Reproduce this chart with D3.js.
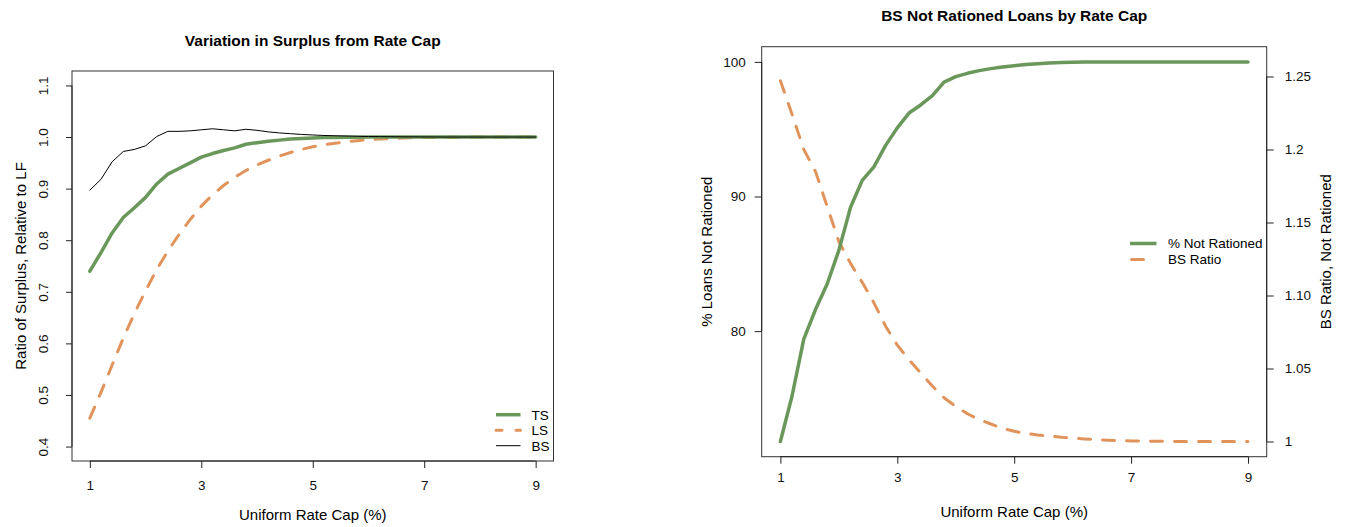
<!DOCTYPE html>
<html>
<head>
<meta charset="utf-8">
<script src="https://cdn.jsdelivr.net/npm/d3@7"></script>
<style>
  body { margin: 0; background: #fff; }
  svg { font-family: "Liberation Sans", Arial, sans-serif; }
</style>
</head>
<body>
<svg id="canvas" width="1345" height="527"></svg>
<script>
// rate caps (%) used in both panels
const caps = [1.0, 1.2, 1.4, 1.6, 1.8, 2.0, 2.2, 2.4, 2.6, 2.8,
              3.0, 3.2, 3.4, 3.6, 3.8, 4.0, 4.2, 4.4, 4.6, 4.8,
              5.0, 5.2, 5.4, 5.6, 5.8, 6.0, 6.2, 6.4, 6.6, 6.8,
              7.0, 7.2, 7.4, 7.6, 7.8, 8.0, 8.2, 8.4, 8.6, 8.8, 9.0];

// left panel: surplus ratios relative to LF
const tsRatio = [0.740, 0.776, 0.814, 0.844, 0.863, 0.883, 0.909, 0.928, 0.939, 0.950,
                 0.961, 0.968, 0.974, 0.979, 0.986, 0.989, 0.992, 0.994, 0.996, 0.997,
                 0.998, 0.999, 0.9993, 0.9996, 0.9998, 1, 1, 1, 1, 1,
                 1, 1, 1, 1, 1, 1, 1, 1, 1, 1, 1];
const lsRatio = [0.455, 0.505, 0.558, 0.610, 0.658, 0.702, 0.743, 0.779, 0.811, 0.840,
                 0.866, 0.888, 0.906, 0.922, 0.935, 0.946, 0.955, 0.963, 0.970, 0.976,
                 0.981, 0.985, 0.988, 0.991, 0.993, 0.995, 0.996, 0.997, 0.998, 0.9985,
                 0.999, 0.9993, 0.9995, 0.9997, 0.9998, 0.9999, 1, 1, 1, 1, 1];
const bsRatio = [0.897, 0.918, 0.952, 0.972, 0.976, 0.983, 1.001, 1.011, 1.011, 1.012,
                 1.014, 1.016, 1.014, 1.012, 1.015, 1.013, 1.010, 1.008, 1.0065, 1.005,
                 1.004, 1.003, 1.0025, 1.002, 1.0015, 1.001, 1.0008, 1.0006, 1.0004, 1.0003,
                 1.0002, 1.0001, 1, 1, 1, 1, 1, 1, 1, 1, 1];

// right panel
const pctNotRationed = [71.8, 75.2, 79.4, 81.6, 83.5, 86.0, 89.2, 91.2, 92.2, 93.8,
                        95.1, 96.2, 96.8, 97.5, 98.5, 98.9, 99.15, 99.35, 99.5, 99.62,
                        99.72, 99.8, 99.86, 99.91, 99.95, 99.98, 100, 100, 100, 100,
                        100, 100, 100, 100, 100, 100, 100, 100, 100, 100, 100];
const bsNotRationed = [1.247, 1.224, 1.200, 1.185, 1.161, 1.137, 1.122, 1.109, 1.095, 1.079,
                       1.066, 1.056, 1.047, 1.038, 1.030, 1.024, 1.019, 1.015, 1.012, 1.009,
                       1.007, 1.0055, 1.0045, 1.0038, 1.003, 1.0023, 1.0018, 1.0013, 1.0009, 1.0006,
                       1.0004, 1.0003, 1.0002, 1.0001, 1, 1, 1, 1, 1, 1, 1];

// ticks
const xTicks = [1, 3, 5, 7, 9];
const leftYTicks = [0.4, 0.5, 0.6, 0.7, 0.8, 0.9, 1.0, 1.1];
const pctTicks = [80, 90, 100];
const bsTicks = [1, 1.05, 1.10, 1.15, 1.2, 1.25];
const bsTickLabels = ["1", "1.05", "1.10", "1.15", "1.2", "1.25"];
const surplusLim = [0.4, 1.1];
const bsLim = [1.0, 1.26];

const GREEN = "#6a975a", ORANGE = "#e0945c";
const TICK_FS = "13.5px", LAB_FS = "15px", MAIN_FS = "15.5px";

svg = d3.select("#canvas");

// R style 4% padding
function pad(lim){
    var d = (lim[1] - lim[0]) * 0.04;
    return [lim[0] - d, lim[1] + d];
}

function drawLine(g, x, y, vals, color, width, dash){
    var line = d3.line()
        .x(function(d, i){ return x(caps[i]); })
        .y(function(d){ return y(d); });
    g.append("path")
        .datum(vals)
        .attr("d", line)
        .attr("fill", "none")
        .attr("stroke", color)
        .attr("stroke-width", width)
        .attr("stroke-linecap", "round")
        .attr("stroke-linejoin", "round")
        .attr("stroke-dasharray", dash || null);
}

function styleAxis(a){
    a.select(".domain").remove();
    a.selectAll("line").attr("stroke", "#222");
    a.selectAll("text").attr("fill", "#111").attr("font-size", TICK_FS);
}

// ---------- left panel ----------
(function(){
    var L = 72, R = 553.5, T = 71, B = 461;
    var x = d3.scaleLinear().domain(pad([1, 9])).range([L, R]);
    var y = d3.scaleLinear().domain(pad(surplusLim)).range([B, T]);
    var g = svg.append("g");

    g.append("rect").attr("x", L).attr("y", T).attr("width", R - L).attr("height", B - T)
        .attr("fill", "none").attr("stroke", "#333").attr("stroke-width", 1);

    var xa = g.append("g").attr("transform", "translate(0," + B + ")")
        .call(d3.axisBottom(x).tickValues(xTicks).tickSize(7).tickPadding(12).tickFormat(d3.format("d")));
    styleAxis(xa);
    g.append("line").attr("x1", x(1)).attr("x2", x(9)).attr("y1", B).attr("y2", B).attr("stroke", "#222");

    var ya = g.append("g").attr("transform", "translate(" + L + ",0)")
        .call(d3.axisLeft(y).tickValues(leftYTicks).tickSize(6).tickFormat(d3.format(".1f")));
    styleAxis(ya);
    ya.selectAll("text")
        .attr("text-anchor", "middle")
        .attr("dy", null)
        .attr("x", null)
        .attr("transform", function(d){ return "translate(-24,0) rotate(-90)"; })
        .attr("y", 0);
    g.append("line").attr("x1", L).attr("x2", L).attr("y1", y(0.4)).attr("y2", y(1.1)).attr("stroke", "#222");

    drawLine(g, x, y, lsRatio, ORANGE, 3, "12,12");
    drawLine(g, x, y, tsRatio, GREEN, 3.5);
    drawLine(g, x, y, bsRatio, "#000", 1);

    g.append("text").attr("x", (L + R) / 2).attr("y", 45.5).attr("text-anchor", "middle")
        .attr("font-size", MAIN_FS).attr("font-weight", "bold").text("Variation in Surplus from Rate Cap");
    g.append("text").attr("x", (L + R) / 2).attr("y", 520).attr("text-anchor", "middle")
        .attr("font-size", LAB_FS).text("Uniform Rate Cap (%)");
    g.append("text").attr("transform", "translate(25.5," + (T + B) / 2 + ") rotate(-90)")
        .attr("text-anchor", "middle").attr("font-size", LAB_FS).text("Ratio of Surplus, Relative to LF");

    // legend
    var items = [["TS", GREEN, 3.5, null], ["LS", ORANGE, 3, "6,14"], ["BS", "#000", 1, null]];
    items.forEach(function(it, i){
        var yy = 414.7 + i * 15.5;
        g.append("line").attr("x1", 496).attr("x2", 520.5).attr("y1", yy).attr("y2", yy)
            .attr("stroke", it[1]).attr("stroke-width", it[2]).attr("stroke-dasharray", it[3])
            .attr("stroke-linecap", it[3] ? "round" : "butt");
        g.append("text").attr("x", 531.5).attr("y", yy + 4.8).attr("font-size", TICK_FS).text(it[0]);
    });
})();

// ---------- right panel ----------
(function(){
    var L = 761.7, R = 1266.7, T = 46.7, B = 456.7;
    var x = d3.scaleLinear().domain(pad([1, 9])).range([L, R]);
    var y = d3.scaleLinear().domain(pad([d3.min(pctNotRationed), d3.max(pctNotRationed)])).range([B, T]);
    var y2 = d3.scaleLinear().domain(pad(bsLim)).range([B, T]);
    var g = svg.append("g");

    g.append("rect").attr("x", L).attr("y", T).attr("width", R - L).attr("height", B - T)
        .attr("fill", "none").attr("stroke", "#333").attr("stroke-width", 1);

    var xa = g.append("g").attr("transform", "translate(0," + B + ")")
        .call(d3.axisBottom(x).tickValues(xTicks).tickSize(7).tickPadding(9).tickFormat(d3.format("d")));
    styleAxis(xa);
    g.append("line").attr("x1", x(1)).attr("x2", x(9)).attr("y1", B).attr("y2", B).attr("stroke", "#222");

    var ya = g.append("g").attr("transform", "translate(" + L + ",0)")
        .call(d3.axisLeft(y).tickValues(pctTicks).tickSize(7).tickPadding(9).tickFormat(d3.format("d")));
    styleAxis(ya);
    g.append("line").attr("x1", L).attr("x2", L).attr("y1", y(80)).attr("y2", y(100)).attr("stroke", "#222");

    var ya2 = g.append("g").attr("transform", "translate(" + R + ",0)")
        .call(d3.axisRight(y2).tickValues(bsTicks).tickSize(7).tickPadding(11)
            .tickFormat(function(d, i){ return bsTickLabels[i]; }));
    styleAxis(ya2);
    g.append("line").attr("x1", R).attr("x2", R).attr("y1", y2(1)).attr("y2", y2(1.25)).attr("stroke", "#222");

    drawLine(g, x, y2, bsNotRationed, ORANGE, 3, "12,12");
    drawLine(g, x, y, pctNotRationed, GREEN, 3.5);

    g.append("text").attr("x", (L + R) / 2).attr("y", 20.5).attr("text-anchor", "middle")
        .attr("font-size", MAIN_FS).attr("font-weight", "bold").text("BS Not Rationed Loans by Rate Cap");
    g.append("text").attr("x", (L + R) / 2).attr("y", 517).attr("text-anchor", "middle")
        .attr("font-size", LAB_FS).text("Uniform Rate Cap (%)");
    g.append("text").attr("transform", "translate(711.5," + (T + B) / 2 + ") rotate(-90)")
        .attr("text-anchor", "middle").attr("font-size", LAB_FS).text("% Loans Not Rationed");
    g.append("text").attr("transform", "translate(1331," + (T + B) / 2 + ") rotate(-90)")
        .attr("text-anchor", "middle").attr("font-size", LAB_FS).text("BS Ratio, Not Rationed");

    var items = [["% Not Rationed", GREEN, 3.5, null], ["BS Ratio", ORANGE, 3, "12,40"]];
    items.forEach(function(it, i){
        var yy = 243.5 + i * 16;
        g.append("line").attr("x1", it[3] ? 1131.5 : 1130).attr("x2", 1156.5).attr("y1", yy).attr("y2", yy)
            .attr("stroke", it[1]).attr("stroke-width", it[2]).attr("stroke-dasharray", it[3])
            .attr("stroke-linecap", it[3] ? "round" : "butt");
        g.append("text").attr("x", 1168).attr("y", yy + 4.8).attr("font-size", TICK_FS).text(it[0]);
    });
})();
</script>
</body>
</html>
